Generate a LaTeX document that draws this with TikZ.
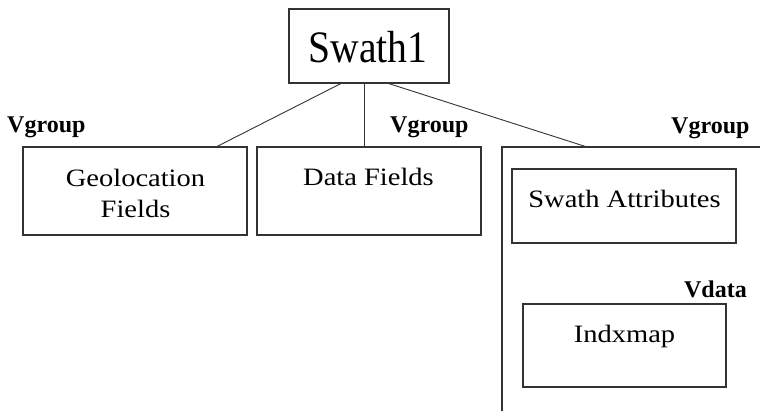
\documentclass[tikz,border=0pt]{standalone}
\usepackage{fontspec}
\setmainfont{Liberation Serif}
\usepackage{graphicx}
\newcommand{\widetxt}[1]{\scalebox{1.14}[1]{#1}}
\begin{document}
\begin{tikzpicture}[x=1pt,y=-1pt,
  boxline/.style={draw=black!80, line width=1.1pt},
  conn/.style={draw=black!80, line width=0.9pt},
  emptybox/.style={boxline, inner sep=0pt, outer sep=0pt, rectangle},
  txt/.style={inner sep=0pt, anchor=base, font=\fontsize{25}{29}\selectfont},
  tag/.style={inner sep=0pt, anchor=base west, font=\fontsize{24}{28}\selectfont\bfseries}]
\useasboundingbox (0,0) rectangle (760,411);
% boxes
\node[emptybox, minimum width=160pt, minimum height=74pt] (swath) at (369,46) {};
\node[txt, font=\fontsize{45}{50}\selectfont] (swtxt) at (368,63) {\scalebox{0.88}[1]{Swath1}};
\node[emptybox, minimum width=224pt, minimum height=88pt] (geo) at (135,191) {};
\node[txt] (geot1) at (135.5,187) {\widetxt{Geolocation}};
\node[txt] (geot2) at (135.5,218) {\widetxt{Fields}};
\node[emptybox, minimum width=224pt, minimum height=88pt] (data) at (369,191) {};
\node[txt] (datat) at (368.5,186) {\widetxt{Data Fields}};
% big vgroup container (partially visible)
\coordinate (bigtl) at (502,147);
\coordinate (bigtr) at (760,147);
\coordinate (bigbl) at (502,411);
\draw[boxline] (bigtr) -- (bigtl) -- (bigbl);
\node[emptybox, minimum width=224pt, minimum height=74pt] (attr) at (624,206) {};
\node[txt] (attrt) at (624.5,208) {\widetxt{Swath Attributes}};
\node[emptybox, minimum width=203pt, minimum height=83pt] (indx) at (624.5,345.5) {};
\node[txt] (indxt) at (624.5,343) {\widetxt{Indxmap}};
% labels
\node[tag] (vg1) at (7,133) {Vgroup};
\node[tag] (vg2) at (390,133) {Vgroup};
\node[tag] (vg3) at (671,134) {Vgroup};
\node[tag, anchor=base east] (vd) at (747,298) {Vdata};
% connectors
\coordinate (bigin) at (587,147);
\draw[conn] ([xshift=-27pt]swath.south) -- ([xshift=81pt]geo.north);
\draw[conn] ([xshift=-5pt]swath.south) -- ([xshift=-5pt]data.north);
\draw[conn] ([xshift=18pt]swath.south) -- (bigin);
\end{tikzpicture}
\end{document}
